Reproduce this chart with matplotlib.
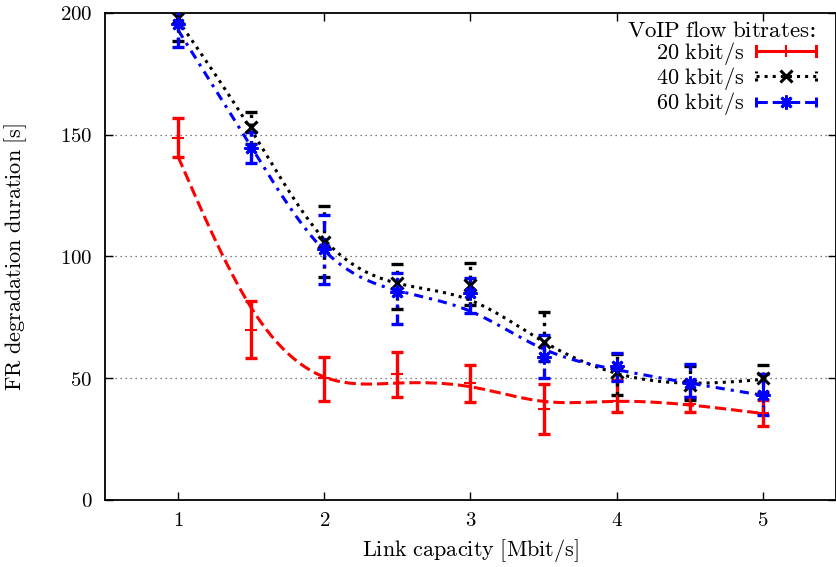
import numpy as np
import matplotlib
matplotlib.use("Agg")
import matplotlib.pyplot as plt
from matplotlib.lines import Line2D
from matplotlib.legend_handler import HandlerBase

plt.rcParams['mathtext.fontset'] = 'cm'
plt.rcParams['font.family'] = 'DejaVu Serif'

# ---------------- data ----------------
capacity = [1, 1.5, 2, 2.5, 3, 3.5, 4, 4.5, 5]

r20_mean = [148.5, 69.8, 50.2, 51.6, 47.9, 37.4, 40.7, 39.4, 35.9]
r20_low = [141.0, 58.3, 40.8, 42.4, 40.4, 27.0, 36.3, 36.3, 30.4]
r20_high = [156.8, 81.7, 58.9, 60.9, 55.4, 47.5, 49.3, 42.4, 41.0]
r20_fit = [141.0, 79.0, 50.5, 48.0, 46.5, 40.5, 40.5, 39.0, 35.5]

r40_mean = [197.8, 153.0, 106.1, 89.0, 88.3, 65.0, 52.5, 47.2, 50.2]
r40_low = [188.5, 146.0, 91.5, 78.4, 80.0, 57.0, 43.0, 41.0, 44.0]
r40_high = [207.0, 159.5, 120.7, 96.9, 97.2, 77.1, 60.0, 55.0, 55.4]
r40_fit = [197.0, 152.0, 107.0, 89.0, 82.0, 65.0, 52.0, 48.0, 49.5]

r60_mean = [195.5, 144.4, 103.0, 85.6, 85.0, 58.9, 55.0, 47.9, 43.1]
r60_low = [186.2, 138.3, 88.7, 72.3, 76.9, 50.0, 49.0, 42.4, 34.9]
r60_high = [202.0, 151.3, 117.0, 93.1, 91.0, 67.8, 60.3, 55.9, 51.7]
r60_fit = [193.0, 145.0, 102.5, 86.0, 77.5, 62.0, 53.5, 48.0, 43.0]

series_labels = [r'$\mathrm{20\ kbit/s}$', r'$\mathrm{40\ kbit/s}$', r'$\mathrm{60\ kbit/s}$']
legend_title = r'$\mathrm{VoIP\;flow\;bitrates}$:'
xticks = [1, 2, 3, 4, 5]
xtick_labels = ['$1$', '$2$', '$3$', '$4$', '$5$']
yticks = [0, 50, 100, 150, 200]
ytick_labels = ['$0$', '$50$', '$100$', '$150$', '$200$']


def natural_spline(x, y, n=400):
    x = np.asarray(x, float)
    y = np.asarray(y, float)
    m = len(x)
    h = np.diff(x)
    A = np.zeros((m, m))
    b = np.zeros(m)
    A[0, 0] = A[-1, -1] = 1
    for i in range(1, m - 1):
        A[i, i - 1] = h[i - 1]
        A[i, i] = 2 * (h[i - 1] + h[i])
        A[i, i + 1] = h[i]
        b[i] = 6 * ((y[i + 1] - y[i]) / h[i] - (y[i] - y[i - 1]) / h[i - 1])
    M = np.linalg.solve(A, b)
    xs = np.linspace(x[0], x[-1], n)
    idx = np.clip(np.searchsorted(x, xs) - 1, 0, m - 2)
    x0, x1 = x[idx], x[idx + 1]
    hh = x1 - x0
    t0, t1 = x1 - xs, xs - x0
    ys = (M[idx] * t0 ** 3 + M[idx + 1] * t1 ** 3) / (6 * hh) \
        + (y[idx] / hh - M[idx] * hh / 6) * t0 + (y[idx + 1] / hh - M[idx + 1] * hh / 6) * t1
    return xs, ys


fig = plt.figure(figsize=(8.37, 5.67), dpi=100)
ax = fig.add_axes([0.1254, 0.1182, 0.8734, 0.8589])

dashdot = (0, (3, 2, 1, 2))
styles = [
    dict(color='#ff0000', ls='--', ebls='-', marker='+', ms=9, mew=1.5),
    dict(color='#000000', ls=':', ebls=':', marker='x', ms=8, mew=2.2),
    dict(color='#0000ff', ls=dashdot, ebls=dashdot, marker=(8, 2, 0), ms=10, mew=2.0),
]
data = [
    (r20_mean, r20_low, r20_high, r20_fit),
    (r40_mean, r40_low, r40_high, r40_fit),
    (r60_mean, r60_low, r60_high, r60_fit),
]

handles = []
for (mean, low, high, fit), st in zip(data, styles):
    mean = np.asarray(mean)
    yerr = [mean - np.asarray(low), np.asarray(high) - mean]
    xs, ys = natural_spline(capacity, fit)
    ax.plot(xs, ys, color=st['color'], ls=st['ls'], lw=2.2, zorder=2)
    cont = ax.errorbar(capacity, mean, yerr=yerr, fmt='none', ecolor=st['color'],
                       elinewidth=2.4, capsize=4.0, capthick=2.4, zorder=3)
    for lc in cont[2]:
        lc.set_linestyle(st['ebls'])
    ax.plot(capacity, mean, ls='none', marker=st['marker'], ms=st['ms'],
            mew=st['mew'], color=st['color'], zorder=4)
    h = Line2D([], [], color=st['color'], ls=st['ebls'], marker=st['marker'],
               ms=st['ms'], mew=st['mew'])
    handles.append(h)


class ErrHandler(HandlerBase):
    def create_artists(self, legend, orig_handle, xdescent, ydescent, width,
                       height, fontsize, trans):
        y = height / 2.0 - ydescent
        x0 = -xdescent
        x1 = width - xdescent
        c = orig_handle.get_color()
        ls = orig_handle.get_linestyle()
        arts = [Line2D([x0, x1], [y, y], color=c, ls=ls, lw=2.2, transform=trans)]
        cap = 0.32 * height
        for xx in (x0, x1):
            arts.append(Line2D([xx, xx], [y - cap, y + cap], color=c, lw=2.2,
                               ls=ls, transform=trans))
        arts.append(Line2D([(x0 + x1) / 2], [y], ls='none', marker=orig_handle.get_marker(),
                           ms=orig_handle.get_markersize(), mew=orig_handle.get_markeredgewidth(),
                           color=c, transform=trans))
        return arts


leg = ax.legend(handles, series_labels, handler_map={Line2D: ErrHandler()},
                loc='upper right', bbox_to_anchor=(0.982, 1.0), frameon=False,
                markerfirst=False,
                title=legend_title, fontsize=16, title_fontsize=16.5,
                handlelength=2.7, handletextpad=0.5, labelspacing=-0.08,
                borderaxespad=0.1, alignment='right', borderpad=0.2)

ax.set_xlim(0.5, 5.5)
ax.set_ylim(0, 200)
ax.set_xticks(xticks)
ax.set_xticklabels(xtick_labels)
ax.set_yticks(yticks)
ax.set_yticklabels(ytick_labels)
ax.tick_params(direction='in', length=6, width=1, labelsize=15, top=True, right=True)
ax.tick_params(axis='x', pad=8)
ax.tick_params(axis='y', pad=9)
for gy in yticks[1:-1]:
    ax.axhline(gy, color='#555555', ls=(0, (1, 3)), lw=0.9, zorder=1)
for sp in ax.spines.values():
    sp.set_linewidth(1.3)

ax.set_xlabel(r'$\mathrm{Link\ capacity\ [Mbit/s]}$', fontsize=16)
ax.set_ylabel(r'$\mathrm{FR\ degradation\ duration\ [s]}$', fontsize=16)
ax.xaxis.set_label_coords(0.5, -0.075)
ax.yaxis.set_label_coords(-0.104, 0.5)

fig.savefig('out.png', dpi=100)
